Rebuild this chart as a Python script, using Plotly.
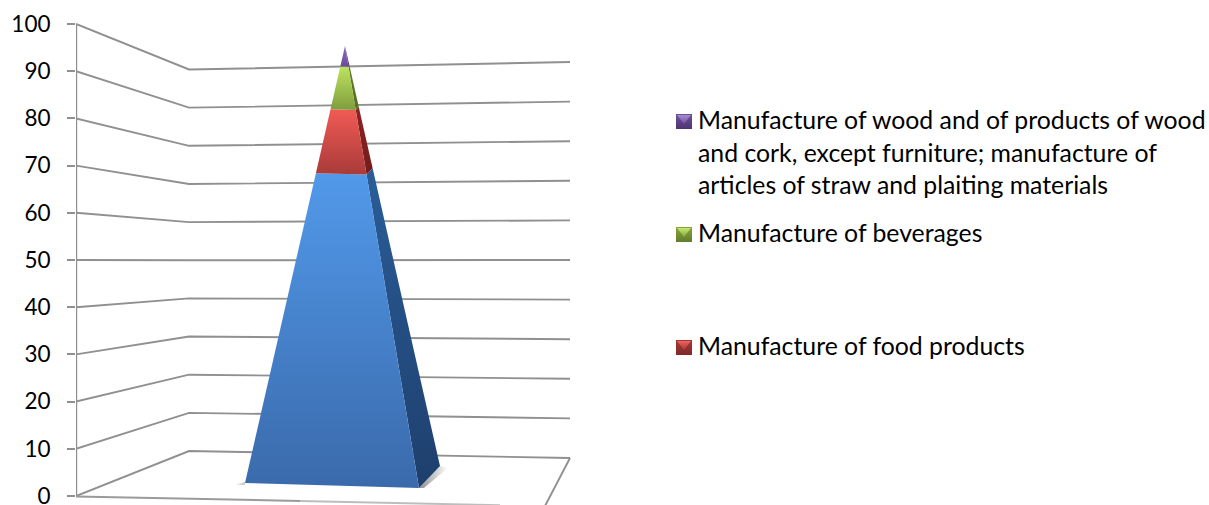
import plotly.graph_objects as go

# Share of each activity, stacked bottom to top (percent)
categories = ["Other manufacturing", "Manufacture of food products", "Manufacture of beverages",
              "Manufacture of wood and of products of wood"]
shares = [70.9, 14.6, 9.8, 4.7]
axis_ticks = [0, 10, 20, 30, 40, 50, 60, 70, 80, 90, 100]

front_colors = [("#5299ea", "#3a6aab"), ("#f15a55", "#a83b39"), ("#bce35f", "#7f9d3e"), ("#8c69bb", "#6b4b98")]
side_colors = [("#2a5d98", "#1e3f6d"), ("#8a2423", "#741d1c"), ("#5f7a28", "#55701f"), ("#4e3572", "#4e3572")]
swatch_colors = {1: ("#f0625c", "#a33a37", "#7f2a28"), 2: ("#c6e86c", "#86a63e", "#617d2a"),
                 3: ("#a68bd3", "#6f519c", "#4e3574")}

legend_rows = [
    (3, ["Manufacture of wood and of products of wood",
         "and cork, except furniture; manufacture of",
         "articles of straw and plaiting materials"], [119, 152, 184]),
    (2, ["Manufacture of beverages"], [232]),
    (1, ["Manufacture of food products"], [345]),
]

W, H = 1209, 505
AX_LEFT, Y0, PX_PER_UNIT = 76, 496, 4.72
GRID = "#909090"
FONT = "Lato"


def dx(px):
    return px - AX_LEFT


def dy(py):
    return (Y0 - py) / PX_PER_UNIT


def wall_y(edge, v):
    base, scale = {"front": (Y0, 4.72), "corner": (451, 3.815), "right": (458, 3.96)}[edge]
    return base - scale * v


fig = go.Figure()


def line(xs, ys, color=GRID, width=1.9):
    fig.add_trace(go.Scatter(x=[dx(p) for p in xs], y=[dy(p) for p in ys], mode="lines",
                             line=dict(color=color, width=width), hoverinfo="skip", cliponaxis=True))


def poly(points, start, end, kind="vertical"):
    # start is the colour at the top (vertical) or left (horizontal) of the shape
    xs = [dx(p[0]) for p in points] + [dx(points[0][0])]
    ys = [dy(p[1]) for p in points] + [dy(points[0][1])]
    scale = [[0, end], [1, start]] if kind == "vertical" else [[0, start], [1, end]]
    fig.add_trace(go.Scatter(
        x=xs, y=ys, mode="lines", line=dict(width=0), fill="toself", fillcolor=start,
        fillgradient=dict(type=kind, colorscale=scale), hoverinfo="skip"))


# Back walls: one polyline per tick value
for v in axis_ticks:
    line([AX_LEFT, 189, 570], [wall_y("front", v), wall_y("corner", v), wall_y("right", v)])

# Floor edges
line([570, 545], [458, 506])
line([AX_LEFT, 300], [496.4, 501], "#9a9a9a", 2)
line([300, 500], [501, 505.2], "#bdbdbd", 2)

# Value axis spine
fig.add_trace(go.Scatter(x=[0, 0], y=[0, 100], mode="lines", line=dict(color="#8f8f8f", width=2.4),
                         hoverinfo="skip", cliponaxis=False))

# Pyramid footprint and apex
FL, FR, BR, APEX = (245, 483), (419, 488), (440, 466), (345, 46)


def along(corner, frac):
    return (corner[0] + (APEX[0] - corner[0]) * frac, corner[1] + (APEX[1] - corner[1]) * frac)


# Contact shadows on the floor
poly([(419, 488), (440, 466), (448, 468), (424, 488)], "#8f8f8f", "#ffffff", "horizontal")
poly([(234, 485), (245, 482), (245, 485)], "#ffffff", "#c4c4c4", "horizontal")

total = sum(shares)
cum = 0
for i, share in enumerate(shares):
    f0, f1 = cum / total, (cum + share) / total
    cum += share
    poly([along(FR, f0), along(BR, f0), along(BR, f1), along(FR, f1)], *side_colors[i])
    poly([along(FL, f0), along(FR, f0), along(FR, f1), along(FL, f1)], *front_colors[i])

annotations = []
for idx, lines, centers in legend_rows:
    top = centers[0] - 5
    x0, x1, y0, y1 = 676, 692, top, top + 15
    light, mid, dark = swatch_colors[idx]
    poly([(x0, y0), (x1, y0), (x1, y1), (x0, y1)], mid, dark)
    poly([(x0 + 1, y0 + 1), (x1 - 1, y0 + 1), ((x0 + x1) / 2, y0 + 10)], light, mid)
    for text, cy in zip(lines, centers):
        annotations.append(dict(x=dx(696), y=dy(cy), xref="x", yref="y", text=text, showarrow=False,
                                xanchor="left", yanchor="middle",
                                font=dict(family=FONT, size=24.8, color="#000000")))

fig.update_layout(
    width=W, height=H, margin=dict(l=AX_LEFT, r=0, t=0, b=0, autoexpand=False),
    paper_bgcolor="white", plot_bgcolor="white", showlegend=False, annotations=annotations,
    font=dict(family=FONT, color="#000000"),
    xaxis=dict(visible=False, range=[0, W - AX_LEFT], fixedrange=True),
    yaxis=dict(range=[dy(H), dy(0)], tickmode="array", tickvals=axis_ticks,
               ticktext=[str(v) for v in axis_ticks], ticks="outside", ticklen=8, tickwidth=1.9,
               tickcolor=GRID, showgrid=False, zeroline=False, showline=False,
               ticklabeloverflow="allow", automargin=False,
               tickfont=dict(family=FONT, size=22.5), ticklabelstandoff=12, fixedrange=True),
)

fig.write_html("out.html")
